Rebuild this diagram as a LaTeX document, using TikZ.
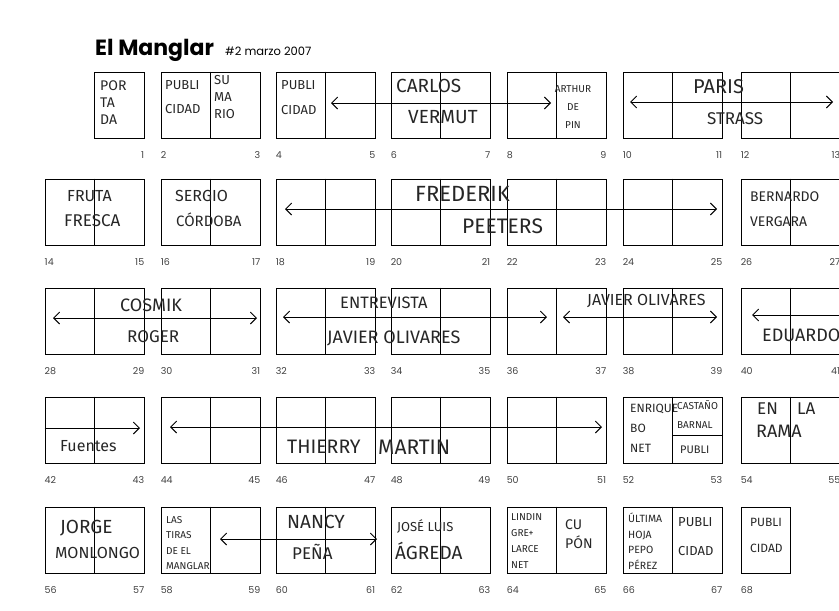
\documentclass[tikz,border=0pt]{standalone}
\usepackage{fontspec}
\usepackage{tikz}
\usetikzlibrary{arrows.meta}

\newfontfamily\handfont{Fira Sans}
\newfontfamily\titlefont{Poppins}

\tikzset{
  spread/.style={draw, line width=0.9pt, minimum width=99pt, minimum height=66pt, inner sep=0pt},
  page/.style={draw, line width=0.9pt, minimum width=49.5pt, minimum height=66pt, inner sep=0pt},
  hand/.style={font=\handfont\fontsize{#1}{#1}\selectfont, text=black!85, anchor=base west, inner sep=0pt},
  hand/.default=17,
  % multi-line labels: placed by the baseline of their last line
  stack/.style 2 args={font=\handfont\fontsize{#1}{#2}\selectfont, text=black!85, align=left, anchor=base west, inner sep=0pt},
  pnum/.style={font=\titlefont\fontsize{9.5}{9.5}\selectfont, text=black!75, inner sep=0pt},
  both/.style={line width=0.9pt, {Straight Barb[length=6pt,width=12pt]}-{Straight Barb[length=6pt,width=12pt]}},
  one/.style={line width=0.9pt, -{Straight Barb[length=6pt,width=12pt]}},
  back/.style={line width=0.9pt, {Straight Barb[length=6pt,width=12pt]}-},
}

\begin{document}
\begin{tikzpicture}[x=1pt, y=-1pt]
    \useasboundingbox (0,0) rectangle (839,611);
    \clip (0,0) rectangle (839,611);

    % Title
    \node[font=\titlefont\bfseries\fontsize{22}{22}\selectfont, anchor=base west, inner sep=0pt] (title) at (95,55) {El Manglar};
    \node[font=\titlefont\fontsize{11.5}{11.5}\selectfont, anchor=base west, inner sep=0pt] (issue) at (225,55) {\#2 marzo 2007};

    % Spreads, two pages each, with page numbers
    \foreach \r/\ty in {0/72,1/179,2/288,3/397,4/507} {
      \foreach \c/\lx in {0/45,1/161,2/276,3/391,4/507,5/623,6/741} {
        \pgfmathtruncatemacro\lp{14*\r+2*\c}
        \pgfmathtruncatemacro\rp{\lp+1}
        \ifnum\lp=0
          \node[page] (s\lp) at (\lx+74.25,\ty+33) {};
          \node[pnum, anchor=base east] at ([yshift=-20pt]s\lp.south east) {\rp};
        \else\ifnum\lp=68
          \node[page] (s\lp) at (\lx+24.75,\ty+33) {};
          \node[pnum, anchor=base west] at ([yshift=-20pt]s\lp.south west) {\lp};
        \else
          \node[spread] (s\lp) at (\lx+49.5,\ty+33) {};
          \draw[line width=0.9pt] (s\lp.north) -- (s\lp.south);
          \node[pnum, anchor=base west] at ([yshift=-20pt]s\lp.south west) {\lp};
          \node[pnum, anchor=base east] at ([yshift=-20pt]s\lp.south east) {\rp};
        \fi\fi
      }
    }

    % Split right page of 52-53
    \draw[line width=0.9pt] (s52.center |- 0,435) -- (s52.east |- 0,435);

    % Row 1
    \node[stack={14}{17}] (portada) at (100,124) {POR\\TA\\DA};
    \node[stack={13}{24}] (publi2) at (165,113.5) {PUBLI\\CIDAD};
    \node[stack={13}{17}] (sumario) at (214,118.5) {SU\\MA\\RIO};
    \node[stack={13}{25}] (publi4) at (281,114.5) {PUBLI\\CIDAD};
    \node[hand=19] (carlos) at (396,92.5) {CARLOS};
    \node[hand=19] (vermut) at (408,123.5) {VERMUT};
    \node[stack={10}{18}, align=center, anchor=base] (arthur) at (573,128.5) {ARTHUR\\DE\\PIN};
    \node[hand=20] (paris) at (693,93) {PARIS};
    \node[hand=17] (strass) at (707,124) {STRASS};
    \coordinate (a1l) at (331,103); \coordinate (a1r) at (551,103);
    \coordinate (a2l) at (630,102); \coordinate (a2r) at (833,102);
    \draw[both] (a1l) -- (a1r);
    \draw[both] (a2l) -- (a2r);

    % Row 2
    \node[hand=16] (fruta) at (67,201.5) {FRUTA};
    \node[hand=17] (fresca) at (64,226) {FRESCA};
    \node[hand=16] (sergio) at (175,201.5) {SERGIO};
    \node[hand=15] (cordoba) at (176,226) {CÓRDOBA};
    \node[hand=22] (frederik) at (415,201.5) {FREDERIK};
    \node[hand=21] (peeters) at (462,233.5) {PEETERS};
    \node[hand=14] (bernardo) at (750,201) {BERNARDO};
    \node[hand=14] (vergara) at (750,226) {VERGARA};
    \coordinate (a3l) at (285,209); \coordinate (a3r) at (717,209);
    \draw[both] (a3l) -- (a3r);

    % Row 3
    \node[hand=18] (cosmik) at (120,311) {COSMIK};
    \node[hand=17] (roger) at (127,342) {ROGER};
    \node[hand=16.5] (entrevista) at (340,308.5) {ENTREVISTA};
    \node[hand=18] (javier1) at (327,343) {JAVIER OLIVARES};
    \node[hand=16] (javier2) at (587,305.5) {JAVIER OLIVARES};
    \node[hand=18] (eduardo) at (762,341) {EDUARDO};
    \coordinate (a4l) at (53,318); \coordinate (a4r) at (257,318);
    \coordinate (a5l) at (283,317); \coordinate (a5r) at (547,317);
    \coordinate (a6l) at (563,317); \coordinate (a6r) at (717,317);
    \coordinate (a7l) at (752,315); \coordinate (a7r) at (850,315);
    \draw[both] (a4l) -- (a4r);
    \draw[both] (a5l) -- (a5r);
    \draw[both] (a6l) -- (a6r);
    \draw[back] (a7l) -- (a7r);

    % Row 4
    \node[hand=16] (fuentes) at (60,451) {Fuentes};
    \node[hand=19.5] (thierry) at (287,453.5) {THIERRY};
    \node[hand=21] (martin) at (378,454) {MARTIN};
    \node[stack={12}{20}] (bonet) at (630,452) {ENRIQUE\\BO\\NET};
    \node[stack={10}{19}] (castano) at (677,428.5) {CASTAÑO\\BARNAL};
    \node[hand=11] (publi53) at (680,453) {PUBLI};
    \node[hand=17] (en) at (757,414) {EN};
    \node[hand=17] (la) at (797,414) {LA};
    \node[hand=18] (rama) at (756,437) {RAMA};
    \coordinate (a8r) at (140,428);
    \coordinate (a9l) at (170,427); \coordinate (a9r) at (602,427);
    \draw[one] (s42.west |- a8r) -- (a8r);
    \draw[both] (a9l) -- (a9r);

    % Row 5
    \node[hand=19] (jorge) at (60,533.5) {JORGE};
    \node[hand=16] (monlongo) at (55,558.5) {MONLONGO};
    \node[stack={10}{15.3}] (tiras) at (166,569.4) {LAS\\TIRAS\\DE EL\\MANGLAR};
    \node[hand=19] (nancy) at (287,528.5) {NANCY};
    \node[hand=17] (pena) at (292,559) {PEÑA};
    \node[hand=13] (joseluis) at (397,531.5) {JOSÉ LUIS};
    \node[hand=19] (agreda) at (395,559.5) {ÁGREDA};
    \node[stack={10}{16}] (lindingre) at (511,568.5) {LINDIN\\GRE+\\LARCE\\NET};
    \node[stack={14}{19}] (cupon) at (565,548) {CU\\PÓN};
    \node[stack={10.5}{15.7}] (pepo) at (628,569.6) {ÚLTIMA\\HOJA\\PEPO\\PÉREZ};
    \node[stack={13}{29}] (publi67) at (678,555.5) {PUBLI\\CIDAD};
    \node[stack={12}{26}] (publi68) at (750,552) {PUBLI\\CIDAD};
    \coordinate (a10l) at (220,539); \coordinate (a10r) at (377,539);
    \draw[both] (a10l) -- (a10r);
\end{tikzpicture}
\end{document}
